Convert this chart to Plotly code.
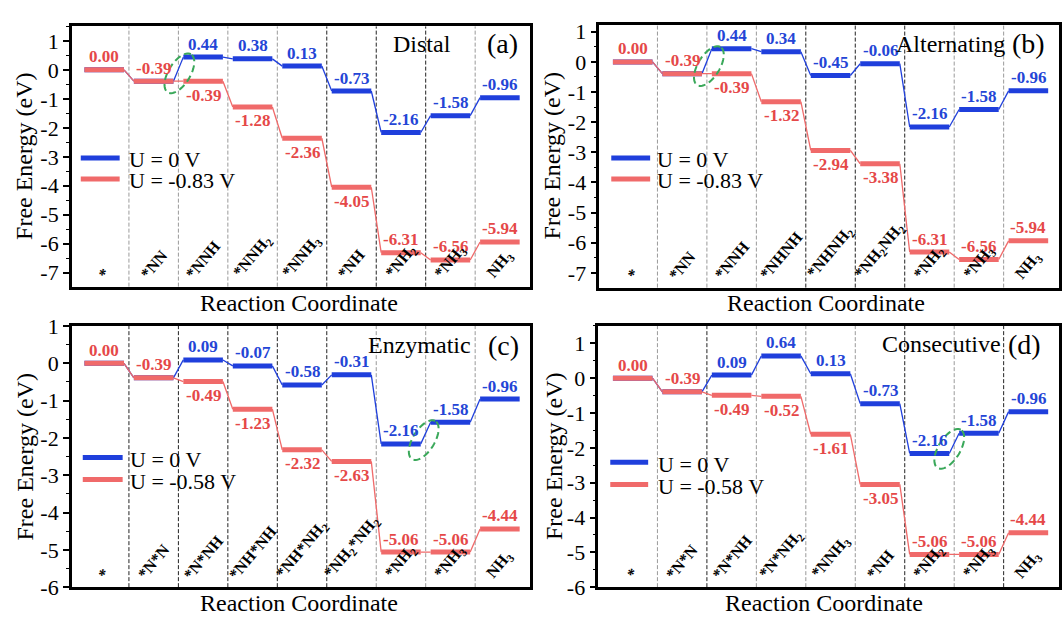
import numpy as np
import plotly.graph_objects as go

W, H = 1062, 628
FONT = "Liberation Serif, Times New Roman, serif"
BLUE = "#1f3fdc"
RED = "#f06a6a"
BLUE_TXT = "#2445d6"
RED_TXT = "#e54848"
GREEN = "#3aa85a"

# ---------------- data ----------------
steps_a = ["*", "*NN", "*NNH", "*NNH<sub>2</sub>", "*NNH<sub>3</sub>", "*NH",
           "*NH<sub>2</sub>", "*NH<sub>3</sub>", "NH<sub>3</sub>"]
u0_a = [0.00, -0.39, 0.44, 0.38, 0.13, -0.73, -2.16, -1.58, -0.96]
uu_a = [0.00, -0.39, -0.39, -1.28, -2.36, -4.05, -6.31, -6.56, -5.94]

steps_b = ["*", "*NN", "*NNH", "*NHNH", "*NHNH<sub>2</sub>", "*NH<sub>2</sub>NH<sub>2</sub>",
           "*NH<sub>2</sub>", "*NH<sub>3</sub>", "NH<sub>3</sub>"]
u0_b = [0.00, -0.39, 0.44, 0.34, -0.45, -0.06, -2.16, -1.58, -0.96]
uu_b = [0.00, -0.39, -0.39, -1.32, -2.94, -3.38, -6.31, -6.56, -5.94]

steps_c = ["*", "*N*N", "*N*NH", "*NH*NH", "*NH*NH<sub>2</sub>", "*NH<sub>2</sub>*NH<sub>2</sub>",
           "*NH<sub>2</sub>", "*NH<sub>3</sub>", "NH<sub>3</sub>"]
u0_c = [0.00, -0.39, 0.09, -0.07, -0.58, -0.31, -2.16, -1.58, -0.96]
uu_c = [0.00, -0.39, -0.49, -1.23, -2.32, -2.63, -5.06, -5.06, -4.44]

steps_d = ["*", "*N*N", "*N*NH", "*N*NH<sub>2</sub>", "*NNH<sub>3</sub>", "*NH",
           "*NH<sub>2</sub>", "*NH<sub>3</sub>", "NH<sub>3</sub>"]
u0_d = [0.00, -0.39, 0.09, 0.64, 0.13, -0.73, -2.16, -1.58, -0.96]
uu_d = [0.00, -0.39, -0.49, -0.52, -1.61, -3.05, -5.06, -5.06, -4.44]

yticks_ab = [1, 0, -1, -2, -3, -4, -5, -6, -7]
yticks_cd = [1, 0, -1, -2, -3, -4, -5, -6]

legend_blue = "U = 0 V"
legend_red_ab = "U = -0.83 V"
legend_red_cd = "U = -0.58 V"

# ---------------- layout per panel (pixels) ----------------
panels = [
    dict(steps=steps_a, blue=u0_a, red=uu_a, ticks=yticks_ab, red_lab=legend_red_ab,
         box=(72, 531, 15, 286), yr=(-7.48, 1.5), cat0=104.5,
         title="Distal", tpos=(423, 33), tag="(a)", tagpos=(504, 33),
         leg=(81, 120, 152, 174, 127), ytitle=(24, 150), xtitle=(300, 303),
         red_dir=[1, 1, -1, -1, -1, -1, 1, 1, 1], blue_hide=2,
         seps="ggggkkkg", ell=(1.52, -0.12)),
    dict(steps=steps_b, blue=u0_b, red=uu_b, ticks=yticks_ab, red_lab=legend_red_ab,
         box=(601, 1062, 14, 287), yr=(-7.49, 1.21), cat0=634.5,
         title="Alternating", tpos=(953, 33), tag="(b)", tagpos=(1031, 33),
         leg=(613, 652, 152, 174, 657), ytitle=(554, 150), xtitle=(828, 303),
         red_dir=[1, 1, -1, -1, -1, -1, 1, 1, 1], blue_hide=2,
         seps="gggkkkgg", ell=(1.54, -0.14)),
    dict(steps=steps_c, blue=u0_c, red=uu_c, ticks=yticks_cd, red_lab=legend_red_cd,
         box=(72, 531, 327, 599), yr=(-6.0, 1.0), cat0=104.5,
         title="Enzymatic", tpos=(421, 347), tag="(c)", tagpos=(505, 347),
         leg=(83, 123, 464, 487, 128), ytitle=(25, 463), xtitle=(300, 616),
         red_dir=[1, 1, -1, -1, -1, -1, 1, 1, 1], blue_hide=2,
         seps="kkkkkggg", ell=(6.46, -2.06)),
    dict(steps=steps_d, blue=u0_d, red=uu_d, ticks=yticks_cd, red_lab=legend_red_cd,
         box=(600, 1062, 327, 599), yr=(-6.0, 1.5), cat0=634.5,
         title="Consecutive", tpos=(944, 346), tag="(d)", tagpos=(1027, 346),
         leg=(612, 650, 469, 492, 658), ytitle=(555, 463), xtitle=(826, 616),
         red_dir=[1, 1, -1, -1, -1, -1, 1, 1, 1], blue_hide=2,
         seps="gkgggkgk", ell=(6.40, -2.03)),
]

STEP_PX = 49.6
HW = 0.4
LABEL_ANGLE = -50

fig = go.Figure()
annotations = []
shapes = []


def px(x):
    return x / W


def py(y):
    return 1 - y / H


for k, p in enumerate(panels):
    sfx = "" if k == 0 else str(k + 1)
    xr, yr = "x" + sfx, "y" + sfx
    x0, x1, yt, yb = p["box"]
    xlo = -(p["cat0"] - x0) / STEP_PX
    xhi = xlo + (x1 - x0) / STEP_PX
    sx = STEP_PX
    sy = (yb - yt) / (p["yr"][1] - p["yr"][0])
    n = len(p["steps"])

    for vals, col in ((p["blue"], BLUE), (p["red"], RED)):
        cx, cy = [], []
        for i in range(n - 1):
            cx += [i + HW, i + 1 - HW, None]
            cy += [vals[i], vals[i + 1], None]
        fig.add_trace(go.Scatter(x=cx, y=cy, mode="lines", line=dict(color=col, width=1.3),
                                 xaxis=xr, yaxis=yr, showlegend=False, hoverinfo="skip"))
        bx, by = [], []
        for i in range(n):
            bx += [i - HW, i + HW, None]
            by += [vals[i], vals[i], None]
        fig.add_trace(go.Scatter(x=bx, y=by, mode="lines", line=dict(color=col, width=5),
                                 xaxis=xr, yaxis=yr, showlegend=False, hoverinfo="skip"))

    # axes
    fig.layout["xaxis" + sfx] = dict(
        domain=[px(x0), px(x1)], range=[xlo, xhi], anchor=yr,
        showline=True, mirror=True, linecolor="black", linewidth=2.5,
        showticklabels=False, ticks="", showgrid=False, zeroline=False)
    fig.layout["yaxis" + sfx] = dict(
        domain=[py(yb), py(yt)], range=list(p["yr"]), anchor=xr,
        showline=True, mirror=True, linecolor="black", linewidth=2.5,
        tickmode="array", tickvals=p["ticks"], ticktext=[str(v) for v in p["ticks"]],
        ticks="outside", ticklen=6, tickwidth=1.5, tickcolor="black",
        minor=dict(ticks="outside", ticklen=3, tickwidth=1.2, tickcolor="black",
                   tickmode="linear", tick0=0.5, dtick=1),
        tickfont=dict(family=FONT, size=22, color="black"),
        showgrid=False, zeroline=False)

    # separators
    for j, c in enumerate(p["seps"]):
        shapes.append(dict(type="line", xref=xr, yref=yr + " domain", x0=j + 0.5, x1=j + 0.5,
                           y0=0, y1=1, layer="below",
                           line=dict(color="#222222" if c == "k" else "#9a9a9a", width=1,
                                     dash="4px,2px")))

    # value labels
    for i in range(p["blue_hide"], n):
        v = p["blue"][i]
        annotations.append(dict(x=i, y=v, xref=xr, yref=yr, text=f"{v:.2f}", showarrow=False,
                                yshift=13, xanchor="center", yanchor="middle",
                                font=dict(family=FONT, size=17, color=BLUE_TXT, weight="bold")))
    for i in range(n):
        v = p["red"][i]
        d = p["red_dir"][i]
        annotations.append(dict(x=i, y=v, xref=xr, yref=yr, text=f"{v:.2f}", showarrow=False,
                                yshift=13 if d > 0 else -14, xanchor="center", yanchor="middle",
                                font=dict(family=FONT, size=17, color=RED_TXT, weight="bold")))

    # step labels (rotated, at the category centre along the bottom of the frame)
    for i, s in enumerate(p["steps"]):
        cxp = x0 + (i - xlo) * STEP_PX
        annotations.append(dict(x=px(cxp), y=py(yb - 2), xref="paper", yref="paper", text=s,
                                showarrow=False, textangle=LABEL_ANGLE, xanchor="center",
                                yanchor="bottom",
                                font=dict(family=FONT, size=16, color="black", weight="bold")))

    # titles
    annotations.append(dict(x=px(p["tpos"][0]), y=py(p["tpos"][1]), xref="paper", yref="paper",
                            text=p["title"], showarrow=False, xanchor="center", yanchor="middle",
                            font=dict(family=FONT, size=24, color="black")))
    annotations.append(dict(x=px(p["tagpos"][0]), y=py(p["tagpos"][1]), xref="paper", yref="paper",
                            text=p["tag"], showarrow=False, xanchor="center", yanchor="middle",
                            font=dict(family=FONT, size=28, color="black")))
    annotations.append(dict(x=px(p["ytitle"][0]), y=py(p["ytitle"][1]), xref="paper", yref="paper",
                            text="Free Energy (eV)", showarrow=False, textangle=-90,
                            xanchor="center", yanchor="middle",
                            font=dict(family=FONT, size=24, color="black")))
    annotations.append(dict(x=px(p["xtitle"][0]), y=py(p["xtitle"][1]), xref="paper", yref="paper",
                            text="Reaction Coordinate", showarrow=False,
                            xanchor="center", yanchor="middle",
                            font=dict(family=FONT, size=24, color="black")))

    # legend
    lx0, lx1, ly_b, ly_r, tx = p["leg"]
    for ly, col, txt in ((ly_b, BLUE, legend_blue), (ly_r, RED, p["red_lab"])):
        shapes.append(dict(type="line", xref="paper", yref="paper", x0=px(lx0), x1=px(lx1),
                           y0=py(ly), y1=py(ly), line=dict(color=col, width=5)))
        annotations.append(dict(x=px(tx), y=py(ly + 2), xref="paper", yref="paper", text=txt,
                                showarrow=False, xanchor="left", yanchor="middle",
                                font=dict(family=FONT, size=22, color="black")))

    # dashed ellipse
    ecx, ecy = p["ell"]
    a_px, b_px, th = 23.0, 11.0, np.deg2rad(60)
    t = np.linspace(0, 2 * np.pi, 61)
    ex = ecx + (a_px * np.cos(t) * np.cos(th) - b_px * np.sin(t) * np.sin(th)) / sx
    ey = ecy + (a_px * np.cos(t) * np.sin(th) + b_px * np.sin(t) * np.cos(th)) / sy
    path = "M " + " L ".join(f"{a:.4f},{b:.4f}" for a, b in zip(ex, ey)) + " Z"
    shapes.append(dict(type="path", xref=xr, yref=yr, path=path,
                       line=dict(color=GREEN, width=2, dash="7px,4px")))

fig.update_layout(
    width=W, height=H, margin=dict(l=0, r=0, t=0, b=0),
    paper_bgcolor="white", plot_bgcolor="white",
    annotations=annotations, shapes=shapes, showlegend=False,
    font=dict(family=FONT, color="black"),
)

fig.write_html("out.html")
